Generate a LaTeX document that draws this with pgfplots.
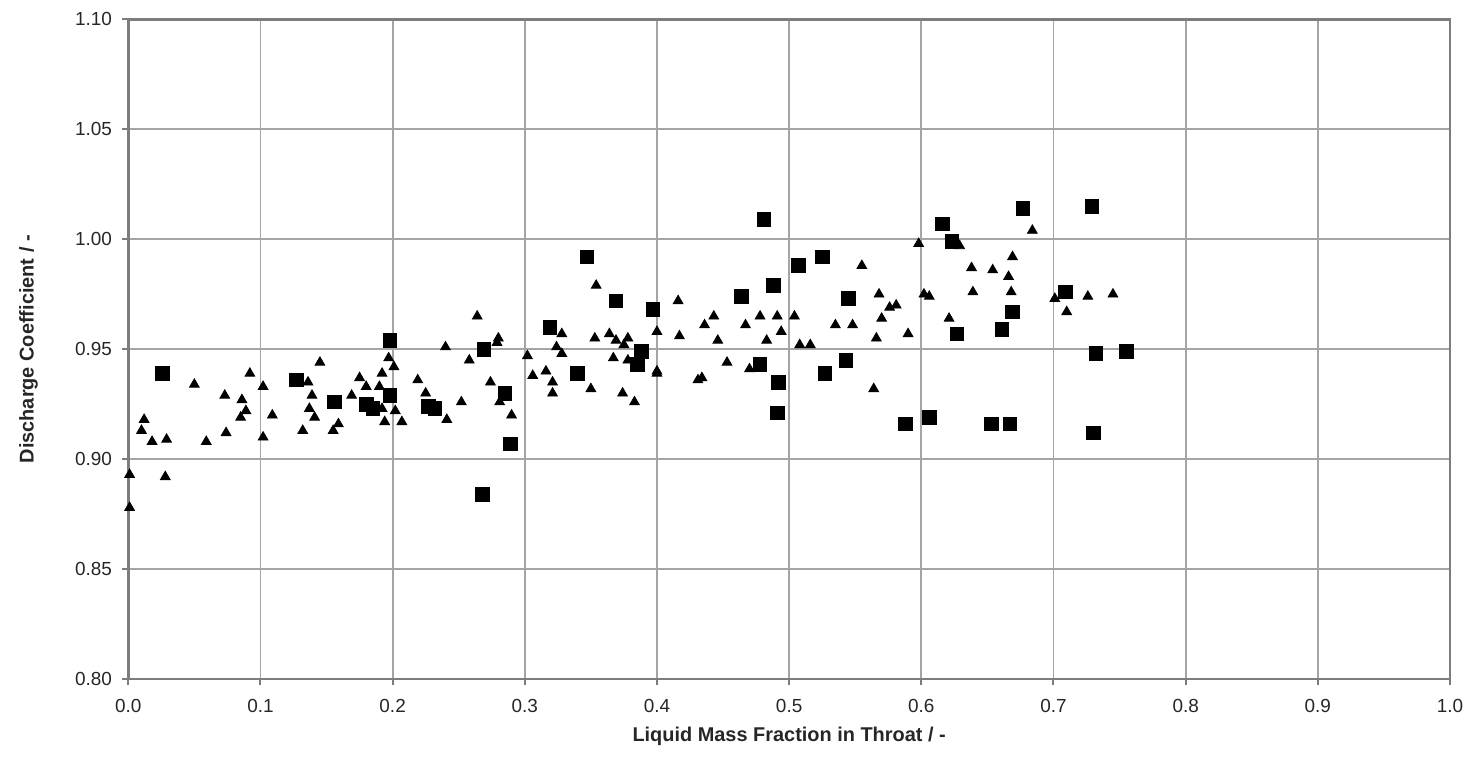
\documentclass[border=0pt]{standalone}
\usepackage{fontspec}
\setmainfont{Liberation Sans}
\usepackage{pgfplots}
\pgfplotsset{compat=1.18}
\definecolor{gridc}{RGB}{165,165,165}
\definecolor{framec}{RGB}{125,125,125}
\begin{document}
\begin{tikzpicture}
\begin{axis}[
  scale only axis,
  width=661bp, height=330bp,
  xmin=0, xmax=1, ymin=0.8, ymax=1.1,
  xtick={0,0.1,...,1.0}, ytick={0.80,0.85,...,1.10},
  grid=major,
  major grid style={draw=gridc, line width=0.9bp},
  axis line style={draw=framec, line width=1.3bp},
  tick style={draw=framec, line width=1bp},
  tick align=outside, major tick length=3bp,
  xtick pos=bottom, ytick pos=left,
  /pgf/number format/assume math mode=true,
  xticklabel style={/pgf/number format/fixed, /pgf/number format/fixed zerofill, /pgf/number format/precision=1},
  yticklabel style={/pgf/number format/fixed, /pgf/number format/fixed zerofill, /pgf/number format/precision=2},
  tick label style={font=\fontsize{9.5}{11}\selectfont, text=black!85},
  xticklabel style={inner sep=0pt, yshift=-7bp},
  yticklabel style={inner sep=0pt, xshift=-5bp},
  xlabel={Liquid Mass Fraction in Throat / -},
  ylabel={Discharge Coefficient / -},
  every axis x label/.style={font=\fontsize{10}{12}\selectfont\bfseries, text=black!85, at={(axis description cs:0.5,0)}, anchor=north, inner sep=0pt, yshift=-24bp},
  every axis y label/.style={font=\fontsize{10}{12}\selectfont\bfseries, text=black!85, at={(axis description cs:0,0.5)}, rotate=90, anchor=south, inner sep=0pt, yshift=45bp},
  clip=false,
]
\addplot[only marks, mark=square*, mark size=3.4bp, color=black] coordinates {
(0.026,0.939) (0.127,0.936) (0.156,0.926) (0.180,0.925) (0.185,0.923)
(0.198,0.954) (0.198,0.929) (0.227,0.924) (0.232,0.923) (0.269,0.950)
(0.285,0.930) (0.289,0.907) (0.268,0.884) (0.319,0.960) (0.340,0.939)
(0.347,0.992) (0.369,0.972) (0.385,0.943) (0.388,0.949) (0.397,0.968)
(0.464,0.974) (0.478,0.943) (0.481,1.009) (0.488,0.979) (0.491,0.921)
(0.492,0.935) (0.507,0.988) (0.525,0.992) (0.527,0.939) (0.543,0.945)
(0.545,0.973) (0.588,0.916) (0.606,0.919) (0.616,1.007) (0.623,0.999)
(0.627,0.957) (0.653,0.916) (0.661,0.959) (0.667,0.916) (0.669,0.967)
(0.677,1.014) (0.709,0.976) (0.729,1.015) (0.730,0.912) (0.732,0.948)
(0.755,0.949)
};
\addplot[only marks, mark=triangle*, mark size=2.8bp, color=black] coordinates {
(0.001,0.893) (0.001,0.878) (0.012,0.918) (0.010,0.913) (0.018,0.908)
(0.029,0.909) (0.028,0.892) (0.050,0.934) (0.059,0.908) (0.074,0.912)
(0.073,0.929) (0.086,0.927) (0.089,0.922) (0.085,0.919) (0.092,0.939)
(0.102,0.933) (0.102,0.910) (0.109,0.920) (0.132,0.913) (0.136,0.935)
(0.139,0.929) (0.137,0.923) (0.141,0.919) (0.145,0.944) (0.155,0.913)
(0.159,0.916) (0.169,0.929) (0.175,0.937) (0.180,0.933) (0.190,0.933)
(0.192,0.939) (0.197,0.946) (0.201,0.942) (0.192,0.923) (0.202,0.922)
(0.194,0.917) (0.207,0.917) (0.219,0.936)
(0.225,0.930) (0.240,0.951) (0.241,0.918) (0.252,0.926) (0.258,0.945)
(0.264,0.965) (0.274,0.935) (0.279,0.953) (0.280,0.955) (0.281,0.926)
(0.290,0.920) (0.302,0.947) (0.306,0.938) (0.316,0.940) (0.321,0.935)
(0.321,0.930) (0.324,0.951) (0.328,0.948) (0.328,0.957) (0.350,0.932)
(0.353,0.955) (0.354,0.979) (0.364,0.957) (0.369,0.954) (0.378,0.955)
(0.375,0.952) (0.367,0.946) (0.378,0.945) (0.374,0.930) (0.383,0.926)
(0.400,0.958) (0.400,0.940) (0.400,0.939) (0.417,0.956) (0.416,0.972)
(0.431,0.936)
(0.436,0.961) (0.443,0.965) (0.446,0.954) (0.434,0.937) (0.453,0.944)
(0.470,0.941) (0.467,0.961) (0.478,0.965) (0.483,0.954) (0.491,0.965)
(0.494,0.958) (0.504,0.965) (0.508,0.952) (0.516,0.952) (0.535,0.961)
(0.548,0.961) (0.555,0.988) (0.568,0.975) (0.576,0.969) (0.581,0.970)
(0.570,0.964) (0.566,0.955) (0.590,0.957) (0.564,0.932) (0.598,0.998)
(0.602,0.975) (0.606,0.974) (0.629,0.997) (0.638,0.987) (0.639,0.976)
(0.621,0.964)
(0.684,1.004) (0.669,0.992) (0.654,0.986) (0.666,0.983) (0.668,0.976)
(0.701,0.973) (0.710,0.967) (0.726,0.974) (0.745,0.975)
};
\end{axis}
\path ([xshift=-64.15bp, yshift=9.65bp]current axis.north west) rectangle ([xshift=9.5bp, yshift=-38.85bp]current axis.south east);
\end{tikzpicture}
\end{document}
